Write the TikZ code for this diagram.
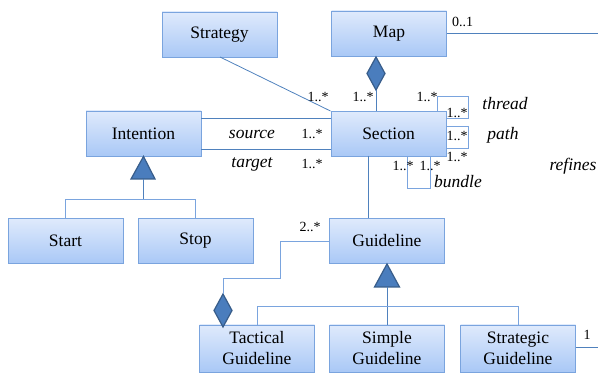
\documentclass[tikz,border=0pt]{standalone}
\usepackage{fontspec}
\setmainfont{Liberation Serif}
\usetikzlibrary{positioning}
\definecolor{boxtop}{HTML}{DFEAFC}
\definecolor{boxbot}{HTML}{A9C8F6}
\definecolor{boxline}{HTML}{7AA4DE}
\definecolor{conn}{HTML}{4F81BD}
\definecolor{symfill}{HTML}{4A7DBD}
\definecolor{symline}{HTML}{385D8A}
\tikzset{
  cls/.style={draw=boxline, line width=0.9pt, top color=boxtop, bottom color=boxbot,
    minimum width=115pt, minimum height=45pt, inner sep=0pt, align=center,
    font=\fontsize{17.5}{21}\selectfont},
  conline/.style={draw=conn, line width=0.8pt},
  mult/.style={font=\fontsize{14}{16}\selectfont, text=black, inner sep=0pt},
  role/.style={font=\fontsize{17.5}{19}\selectfont\itshape, inner sep=0pt},
  diam/.style={fill=symfill, draw=symline, line width=1.2pt},
  tri/.style={fill=symfill, draw=symline, line width=1.2pt}
}
\begin{document}
\begin{tikzpicture}[x=1pt,y=-1pt]
\useasboundingbox (0,0) rectangle (598,374);
% classes
\node[cls] (strategy) at (219.5,34.5) {Strategy};
\node[cls] (map) at (389,33.5) {Map};
\node[cls] (intention) at (143.5,133.5) {Intention};
\node[cls] (section) at (388.5,134) {Section};
\node[cls] (start) at (65.5,241) {Start};
\node[cls] (stop) at (195.5,241) {Stop};
\node[cls] (guideline) at (387,241) {Guideline};
\node[cls, minimum height=47pt] (tactical) at (257,348.5) {Tactical\\Guideline};
\node[cls, minimum height=47pt] (simple) at (387,348.5) {Simple\\Guideline};
\node[cls, minimum height=47pt] (strategic) at (518,348.5) {Strategic\\Guideline};
% coordinates
\coordinate (sS) at (220,57);
\coordinate (mapdtop) at (376,57);
\coordinate (mapdbot) at (376,90);
\coordinate (mapR) at (598,33);
\coordinate (stratR) at (598,347);
\coordinate (itri) at (143,179);
\coordinate (ibar) at (143,199);
\coordinate (gtri) at (387,287);
\coordinate (gbar) at (387,306);
\coordinate (tdtop) at (223,294);
% Strategy - Section
\draw[conline] (sS) -- (section.north west);
% Map composition
\draw[diam] (mapdtop) -- (385,73.5) -- (mapdbot) -- (367,73.5) -- cycle;
\draw[conline] (mapdbot) -- (mapdbot |- section.north);
\draw[conline] (map.east |- mapR) -- (mapR);
\node[mult, anchor=south west] at (452,27) {0..1};
% Intention - Section
\draw[conline] (intention.east |- 0,118) -- (section.west |- 0,118);
\draw[conline] (intention.east |- 0,149) -- (section.west |- 0,149);
\node[role] at (252,134) {source};
\node[role] at (252,164) {target};
\node[mult] at (312,134) {1..*};
\node[mult] at (312,164) {1..*};
\node[mult] at (318,97) {1..*};
\node[mult] at (363,97) {1..*};
% thread loop
\draw[conline, draw=boxline] (437,112) -- (437,96) -- (468,96) -- (468,118) -- (446,118);
\node[mult] at (427,97) {1..*};
\node[mult] at (457,113) {1..*};
\node[role] at (505,104) {thread};
% path loop
\draw[conline, draw=boxline] (446,126) -- (468,126) -- (468,148) -- (446,148);
\node[mult] at (457,136) {1..*};
\node[role] at (503,135) {path};
\node[mult] at (457,157) {1..*};
\node[role] at (573,166) {refines};
% bundle loop
\draw[conline, draw=boxline] (407,156) -- (407,188) -- (430,188) -- (430,156);
\node[mult] at (403,166) {1..*};
\node[mult] at (430,166) {1..*};
\node[role] at (458,182) {bundle};
% Section - Guideline
\draw[conline] (368,156) -- (368,218);
% Intention generalization
\draw[tri] (intention.south) -- (155,179) -- (131,179) -- cycle;
\draw[conline] (itri) -- (ibar);
\draw[conline, draw=boxline] (start.north) -- (start.north |- ibar) -- (stop.north |- ibar) -- (stop.north);
% Guideline generalization
\draw[tri] (guideline.south) -- (399.5,287) -- (374.5,287) -- cycle;
\draw[conline] (gtri) -- (simple.north);
\draw[conline, draw=boxline] (tactical.north) -- (tactical.north |- gbar) -- (strategic.north |- gbar) -- (strategic.north);
% Tactical aggregation
\draw[diam] (tdtop) -- (232,310.5) -- (223,327) -- (214,310.5) -- cycle;
\draw[conline, draw=boxline] (tdtop) -- (223,278) -- (280,278) -- (280,241) -- (guideline.west);
\node[mult] at (310,227) {2..*};
% Strategic right
\draw[conline] (strategic.east |- stratR) -- (stratR);
\node[mult] at (587,335) {1};
\end{tikzpicture}
\end{document}
